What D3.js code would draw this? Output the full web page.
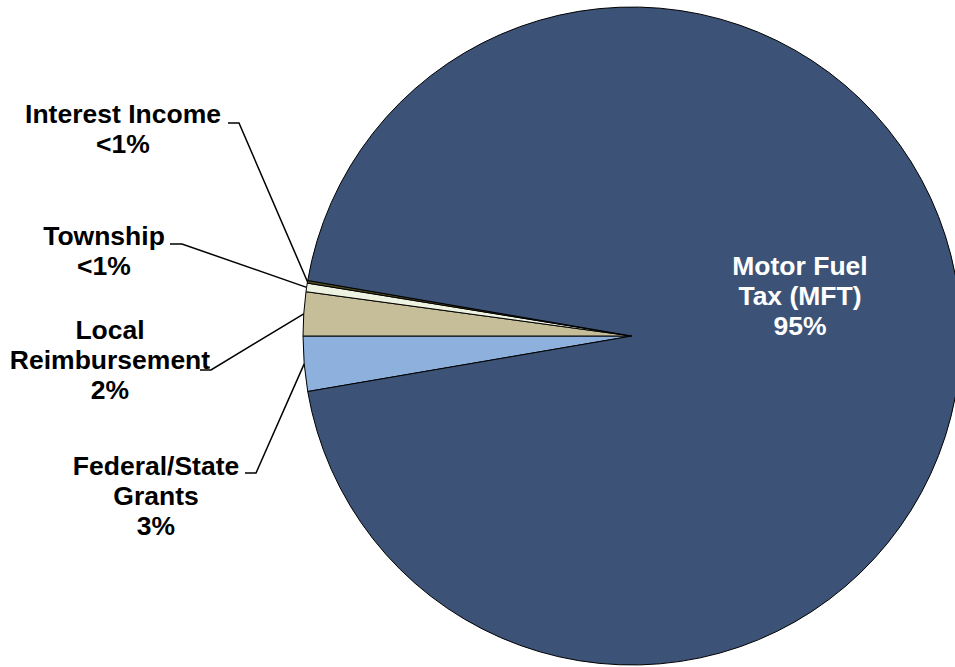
<!DOCTYPE html>
<html>
<head>
<meta charset="utf-8">
<script src="https://cdn.jsdelivr.net/npm/d3@7"></script>
<style>
  html, body { margin: 0; padding: 0; background: #fff; }
  svg { display: block; }
  text { font-family: "Liberation Sans", Arial, sans-serif; font-weight: bold; }
</style>
</head>
<body>
<svg id="chart" width="955" height="667"></svg>
<script>
// Revenue sources, in clockwise drawing order
const categories = ["Federal/State Grants", "Local Reimbursement", "Township", "Interest Income", "Motor Fuel Tax (MFT)"];
const shares = [2.7, 2.15, 0.42, 0.13, 94.6];
const colors = ["#8DB0DC", "#C5BE99", "#EEF2E0", "#4B4A1E", "#3C5377"];

// Label text lines per category (the percentage line is appended from the data)
const labelLines = [
  ["Federal/State", "Grants"],
  ["Local", "Reimbursement"],
  ["Township"],
  ["Interest Income"],
  ["Motor Fuel", "Tax (MFT)"]
];

const svg = d3.select("#chart");
const cx = 632, cy = 336, r = 329;
const fontSize = 26.5, lineH = 30;

const fmt = v => v < 1 ? "<1%" : Math.round(v) + "%";

const data = categories.map((c, i) => ({ name: c, value: shares[i], color: colors[i], lines: labelLines[i] }));
const total = d3.sum(shares);
const start = 1.5 * Math.PI - (shares[0] / total) * 2 * Math.PI;

const pie = d3.pie().sort(null).value(d => d.value)
  .startAngle(start).endAngle(start + 2 * Math.PI);
const arcs = pie(data);
const arc = d3.arc().innerRadius(0).outerRadius(r);

const g = svg.append("g").attr("transform", `translate(${cx},${cy})`);
g.selectAll("path").data(arcs).join("path")
  .attr("d", arc)
  .attr("fill", d => d.data.color)
  .attr("stroke", "#000")
  .attr("stroke-width", 1)
  .attr("stroke-linejoin", "round");

// Label placement: text centre x, first baseline y, leader stub start/end x and its y
const layout = {
  "Federal/State Grants": { x: 156, y: 475, stub: [245, 256], stubY: 473 },
  "Local Reimbursement": { x: 110, y: 339, stub: [200, 211], stubY: 370 },
  "Township": { x: 104, y: 245, stub: [170, 182], stubY: 244 },
  "Interest Income": { x: 123, y: 123, stub: [228, 239], stubY: 123 },
  "Motor Fuel Tax (MFT)": { x: 800, y: 275 }
};

arcs.forEach(a => {
  const L = layout[a.data.name];
  const lines = a.data.lines.concat([fmt(a.data.value)]);
  const inside = !L.stub;
  const t = svg.append("text")
    .attr("text-anchor", "middle")
    .attr("font-size", fontSize)
    .attr("fill", inside ? "#fff" : "#000");
  lines.forEach((s, i) => {
    t.append("tspan").attr("x", L.x).attr("y", L.y + i * lineH).text(s);
  });
  if (!inside) {
    const mid = (a.startAngle + a.endAngle) / 2;
    const ex = cx + r * Math.sin(mid);
    const ey = cy - r * Math.cos(mid);
    svg.append("path")
      .attr("d", `M${L.stub[0]},${L.stubY}L${L.stub[1]},${L.stubY}L${ex},${ey}`)
      .attr("fill", "none")
      .attr("stroke", "#000")
      .attr("stroke-width", 1.5);
  }
});
</script>
</body>
</html>
